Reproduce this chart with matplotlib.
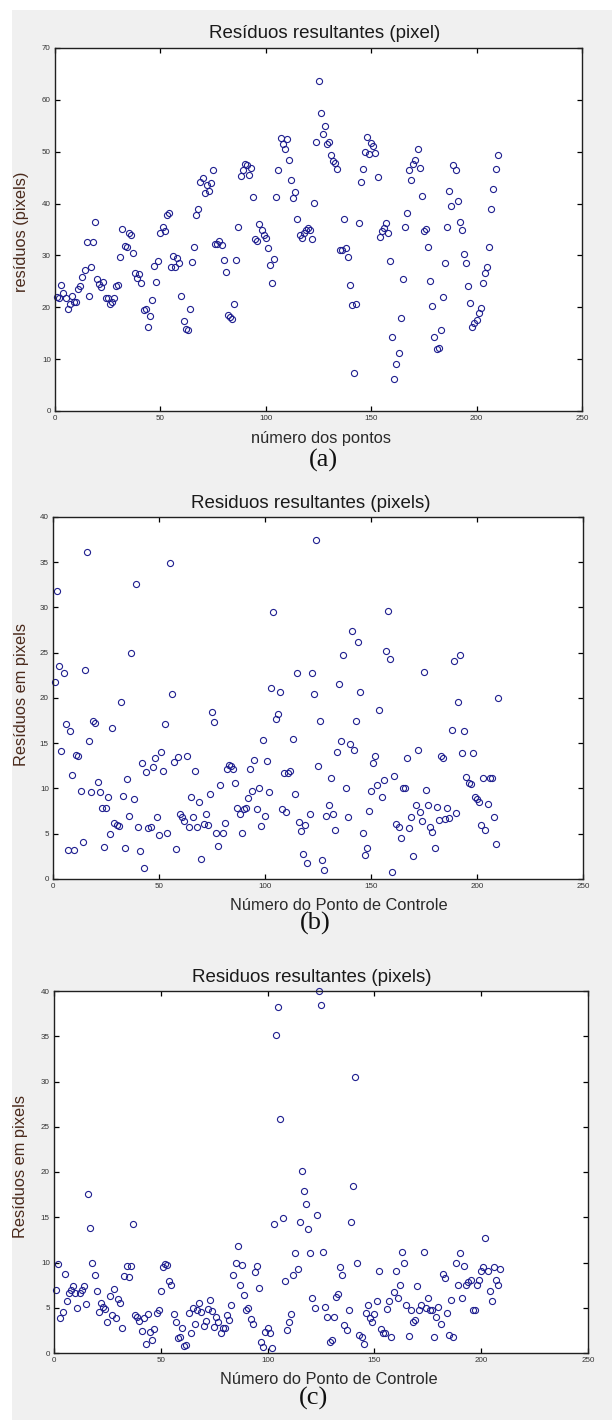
import numpy as np
import matplotlib
matplotlib.use("Agg")
import matplotlib.pyplot as plt
from matplotlib.patches import Rectangle

W, H = 612, 1420

res_a = [22, 21.8, 24.3, 22.8, 21.8, 19.6, 20.6, 22.2, 21, 21,
         23.6, 24.1, 25.9, 27.2, 32.6, 22.2, 27.7, 32.6, 36.5, 25.4,
         24.5, 24, 24.9, 21.7, 21.7, 20.6, 21, 21.7, 24.1, 24.3,
         29.7, 35, 31.9, 31.6, 34.3, 33.9, 30.5, 26.7, 25.6, 26.5,
         24.6, 19.4, 19.6, 16.2, 18.4, 21.5, 28, 24.8, 29, 34.4,
         35.5, 34.8, 37.8, 38.1, 27.7, 29.9, 27.8, 29.6, 28.5, 22.2,
         17.3, 15.9, 15.7, 19.6, 28.7, 31.6, 37.8, 38.9, 44.2, 44.9,
         42, 43.5, 42.5, 44, 46.4, 32.3, 32.2, 32.7, 32.1, 29.2,
         26.9, 18.5, 18.2, 17.8, 20.7, 29.2, 35.5, 45.3, 46.5, 47.6,
         47.4, 45.6, 46.9, 41.2, 33.2, 32.8, 36, 34.9, 33.9, 33.4,
         31.4, 28.2, 24.6, 29.3, 41.2, 46.4, 52.6, 51.5, 50.5, 52.4,
         48.4, 44.6, 41.1, 42.2, 37, 33.9, 33.3, 34.3, 34.9, 35.2,
         34.9, 33.1, 40.2, 51.8, 63.7, 57.4, 53.4, 54.9, 51.5, 51.8,
         49.4, 48.2, 47.8, 46.6, 31, 31, 37, 31.4, 29.7, 24.3,
         20.4, 7.4, 20.6, 36.2, 44.2, 46.6, 50, 52.9, 49.6, 51.6,
         51.1, 49.7, 45.1, 33.6, 34.7, 35.2, 36.3, 34.4, 29, 14.2,
         6.1, 9, 11.1, 18, 25.4, 35.4, 38.1, 46.4, 44.6, 47.7,
         48.4, 50.5, 46.8, 41.5, 34.7, 35.1, 31.6, 25.1, 20.2, 14.2,
         11.9, 12.2, 15.6, 22, 28.5, 35.4, 42.5, 39.6, 47.5, 46.4,
         40.4, 36.4, 34.9, 30.3, 28.5, 24.1, 20.9, 16.2, 16.9, 17.6,
         18.9, 19.9, 24.6, 26.7, 27.7, 31.6, 38.9, 42.8, 46.6, 49.3]

res_b = [21.75, 31.8, 23.5, 14.1, 22.8, 17.1, 3.2, 16.4, 11.5, 3.2,
         13.7, 13.6, 9.7, 4.1, 23.1, 36.1, 15.2, 9.6, 17.5, 17.2,
         10.7, 9.6, 7.8, 3.5, 7.9, 9.1, 5, 16.7, 6.2, 6,
         5.9, 19.6, 9.2, 3.4, 11.1, 7, 25, 8.8, 32.6, 5.8,
         3.1, 12.8, 1.2, 11.8, 5.6, 5.8, 12.4, 13.4, 6.8, 4.9,
         14, 11.9, 17.1, 5.1, 34.9, 20.4, 12.9, 3.3, 13.5, 7.2,
         6.9, 6.4, 13.6, 5.8, 9.1, 6.9, 11.9, 5.8, 8.5, 2.2,
         6.1, 7.2, 6, 9.4, 18.5, 17.3, 5.1, 3.6, 10.4, 5.1,
         6.2, 12.2, 12.6, 12.5, 12.1, 10.6, 7.8, 7.2, 5.1, 7.7,
         7.9, 9, 12.1, 9.7, 13.1, 7.7, 10, 5.9, 15.4, 7,
         13, 9.6, 21.1, 29.5, 17.7, 18.2, 20.7, 7.7, 11.7, 7.4,
         11.7, 11.9, 15.5, 9.4, 22.8, 6.3, 5.3, 2.8, 6, 1.8,
         7.2, 22.8, 20.4, 37.5, 12.5, 17.5, 2.1, 1, 7, 8.2,
         11.2, 7.2, 5.4, 14, 21.6, 15.2, 24.7, 10, 6.9, 14.9,
         27.4, 14.2, 17.5, 26.2, 20.7, 5.1, 2.6, 3.4, 7.5, 9.7,
         12.8, 13.6, 10.4, 18.7, 9.1, 10.9, 25.2, 29.6, 24.3, 0.8,
         11.4, 6.1, 5.8, 4.5, 10, 10, 13.4, 5.6, 6.9, 2.5,
         8.2, 14.2, 7.4, 6.4, 22.9, 9.8, 8.2, 5.8, 5.2, 3.4,
         8, 6.5, 13.6, 13.4, 6.6, 7.8, 6.7, 16.5, 24.1, 7.3,
         19.6, 24.7, 13.9, 16.3, 11.3, 10.6, 10.5, 13.9, 9.1, 8.8,
         8.5, 6, 11.2, 5.4, 8.3, 11.2, 11.2, 6.9, 3.9, 20]

res_c = [7, 9.8, 3.9, 4.5, 8.75, 5.8, 6.6, 7, 7.4, 6.6,
         5, 6.6, 7, 7.4, 5.4, 17.6, 13.8, 10, 8.6, 6.9,
         4.5, 5.5, 5.1, 4.9, 3.4, 6.25, 4.2, 7.1, 3.9, 6,
         5.5, 2.8, 8.5, 9.6, 8.4, 9.6, 14.3, 4.2, 4, 3.5,
         2.4, 3.9, 1, 4.3, 2.3, 1.4, 2.6, 4.4, 4.8, 6.8,
         9.5, 9.8, 9.7, 8, 7.5, 4.3, 3.4, 1.7, 1.8, 2.75,
         0.75, 0.9, 4.4, 2.2, 5, 3.2, 4.7, 5.5, 4.5, 3,
         3.5, 4.9, 5.9, 4.6, 2.9, 4, 3.4, 2.2, 2.75, 2.8,
         4.2, 3.6, 5.3, 8.6, 9.9, 11.8, 7.5, 9.7, 6.4, 4.8,
         5, 3.75, 3.2, 8.9, 9.6, 7.2, 1.2, 0.7, 2.3, 2.8,
         2.2, 0.55, 14.3, 35.1, 38.2, 25.9, 14.9, 8, 2.5, 3.4,
         4.3, 8.6, 11.1, 9.3, 14.5, 20.1, 17.9, 16.5, 13.7, 11.1,
         6.1, 5, 15.2, 40, 38.5, 11.2, 5.1, 4, 1.2, 1.4,
         4, 6.2, 6.5, 9.5, 8.6, 3.1, 2.5, 4.7, 14.5, 18.4,
         30.5, 10, 2, 1.8, 1, 4.4, 5.3, 3.9, 3.4, 4.3,
         5.8, 9.1, 2.7, 2.2, 2.2, 4.9, 5.7, 1.8, 6.7, 9.1,
         6.1, 7.5, 11.2, 10, 5.3, 1.9, 4.7, 3.4, 3.7, 7.4,
         4.7, 5.3, 11.2, 5, 6.1, 4.7, 4.7, 1.8, 4, 5.1,
         3.2, 8.75, 8.3, 4.4, 2, 5.9, 1.8, 10, 7.5, 11,
         6.1, 9.6, 7.5, 7.8, 8.1, 4.7, 4.7, 7.5, 8.1, 9.1,
         9.5, 12.7, 9.1, 6.8, 5.8, 9.5, 8.1, 7.5, 9.3]

titles = ["Resíduos resultantes (pixel)",
          "Residuos resultantes (pixels)",
          "Residuos resultantes (pixels)"]
xlabels = ["número dos pontos",
           "Número do Ponto de Controle",
           "Número do Ponto de Controle"]
ylabels = ["resíduos (pixels)", "Resíduos em pixels", "Resíduos em pixels"]
letters = ["(a)", "(b)", "(c)"]
ymax = [70, 40, 40]
ystep = [10, 5, 5]

# pixel boxes of the three axes: left, right, top, bottom
boxes = [(55, 582, 48, 411), (53, 583, 517, 879), (54, 588, 991, 1353)]
title_pos = [(325, 33), (311, 503), (312, 978)]
xlabel_pos = [(321, 439), (339, 905), (329, 1380)]
letter_pos = [(323, 460), (315, 923), (314, 1398)]
ylabel_pos = [(22, 232), (22, 694), (21, 1167)]

SANS = ["Liberation Sans", "DejaVu Sans"]
SERIF = ["Liberation Serif", "DejaVu Serif"]


def fx(x):
    return x / W


def fy(y):
    return 1 - y / H


def main():
    fig = plt.figure(figsize=(W / 100, H / 100), dpi=100)
    fig.patch.set_facecolor("white")
    fig.patches.append(Rectangle((fx(12), 0), 1 - fx(12), fy(10),
                                 transform=fig.transFigure,
                                 facecolor="#f0f0f0", edgecolor="none",
                                 zorder=-10))

    for i, res in enumerate([res_a, res_b, res_c]):
        l, r, t, b = boxes[i]
        ax = fig.add_axes([fx(l), fy(b), (r - l) / W, (b - t) / H])
        ax.set_facecolor("white")
        pts = np.arange(1, len(res) + 1)
        ax.plot(pts, res, "o", mfc="none", mec="#1f1f8f", ms=4.4,
                mew=0.8, clip_on=False)
        ax.set_xlim(0, 250)
        ax.set_ylim(0, ymax[i])
        ax.set_xticks(range(0, 251, 50))
        ax.set_yticks(range(0, ymax[i] + 1, ystep[i]))
        ax.tick_params(direction="in", length=3.5, width=0.9,
                       top=True, right=True, labelsize=5.8,
                       labelcolor="#333333", pad=3)
        for lab in ax.get_xticklabels() + ax.get_yticklabels():
            lab.set_family(SANS)
        for s in ax.spines.values():
            s.set_linewidth(1.0)
            s.set_color("#202020")

        fig.text(fx(title_pos[i][0]), fy(title_pos[i][1]), titles[i],
                 ha="center", va="center", fontsize=13.5, family=SANS,
                 color="#1a1a1a")
        fig.text(fx(xlabel_pos[i][0]), fy(xlabel_pos[i][1]), xlabels[i],
                 ha="center", va="center", fontsize=11.8, family=SANS,
                 color="#2a2a2a")
        fig.text(fx(ylabel_pos[i][0]), fy(ylabel_pos[i][1]), ylabels[i],
                 ha="center", va="center", rotation=90, fontsize=11.8,
                 family=SANS, color="#4a2a1c")
        fig.text(fx(letter_pos[i][0]), fy(letter_pos[i][1]), letters[i],
                 ha="center", va="center", fontsize=19, family=SERIF,
                 color="#111111")

    fig.savefig("out.png", dpi=100, facecolor=fig.get_facecolor())


if __name__ == "__main__":
    main()
